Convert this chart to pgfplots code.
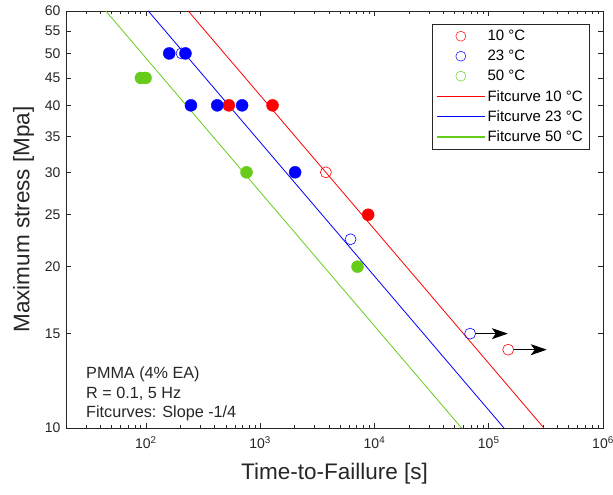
\documentclass[border=0pt]{standalone}
\usepackage{fontspec}
\setmainfont{Liberation Sans}
\usepackage{pgfplots}
\pgfplotsset{compat=1.18}
\usetikzlibrary{arrows.meta}
\definecolor{mred}{rgb}{1,0,0}
\definecolor{mblue}{rgb}{0,0,1}
\definecolor{mgreen}{rgb}{0.4,0.8,0.1}
\definecolor{axgray}{rgb}{0.15,0.15,0.15}
\begin{document}
\begin{tikzpicture}
\begin{axis}[
  scale only axis, width=537pt, height=417pt,
  xmode=log, ymode=log,
  xmin=20, xmax=1e6, ymin=10, ymax=60,
  xtick={1e2,1e3,1e4,1e5,1e6},
  xticklabels={10\textsuperscript{2},10\textsuperscript{3},10\textsuperscript{4},10\textsuperscript{5},10\textsuperscript{6}},
  minor xtick={20,30,40,50,60,70,80,90,200,300,400,500,600,700,800,900,2000,3000,4000,5000,6000,7000,8000,9000,20000,30000,40000,50000,60000,70000,80000,90000,200000,300000,400000,500000,600000,700000,800000,900000},
  ytick={10,15,20,25,30,35,40,45,50,55,60},
  yticklabels={10,15,20,25,30,35,40,45,50,55,60},
  tick align=inside,
  major tick length=5.5pt, minor tick length=3pt,
  axis line style={axgray, line width=0.6pt},
  tick style={axgray, line width=0.5pt},
  ticklabel style={font=\fontsize{14}{14}\selectfont, text=axgray},
  xticklabel style={yshift=-5pt},
  yticklabel style={xshift=-2pt},
  xlabel={Time-to-Faillure [s]}, ylabel={Maximum stress [Mpa]},
  label style={font=\fontsize{22.5}{22.5}\selectfont, text=axgray},
  xlabel style={yshift=-8pt},
  ylabel style={yshift=4pt},
  legend cell align=left,
  legend style={at={(1,1)}, anchor=north east, xshift=-14pt, yshift=-13pt,
    draw=axgray, line width=0.5pt, fill=white,
    font=\fontsize{15}{15}\selectfont, row sep=4pt,
    inner xsep=4pt, inner ysep=4pt},
]
\addlegendimage{legend image code/.code={\draw[mred, line width=0.5pt] (24pt,0pt) circle (5pt);}}
\addlegendentry{10 °C}
\addlegendimage{legend image code/.code={\draw[mblue, line width=0.5pt] (24pt,0pt) circle (5pt);}}
\addlegendentry{23 °C}
\addlegendimage{legend image code/.code={\draw[mgreen, line width=0.5pt] (24pt,0pt) circle (5pt);}}
\addlegendentry{50 °C}

\addplot[mred, line width=0.8pt, legend image code/.code={\draw[mred, line width=1.2pt] (0pt,0pt) -- (48pt,0pt);}] coordinates {(234.6,60) (304000,10)};
\addlegendentry{Fitcurve 10 °C}
\addplot[mblue, line width=0.8pt, legend image code/.code={\draw[mblue, line width=1.2pt] (0pt,0pt) -- (48pt,0pt);}] coordinates {(104.9,60) (136000,10)};
\addlegendentry{Fitcurve 23 °C}
\addplot[mgreen, line width=0.8pt, legend image code/.code={\draw[mgreen, line width=1.5pt] (0pt,0pt) -- (48pt,0pt);}] coordinates {(44.6,60) (57800,10)};
\addlegendentry{Fitcurve 50 °C}

% open circles
\addplot[only marks, mark=o, mark size=5.5pt, mred, line width=0.6pt, forget plot] coordinates {(3760,30) (148000,14)};
\addplot[only marks, mark=o, mark size=5.5pt, mblue, line width=0.6pt, forget plot] coordinates {(205,50) (6180,22.5) (68700,15)};
% filled circles
\addplot[only marks, mark=*, mark size=6pt, mred, forget plot] coordinates {(532,40) (1283,40) (8810,25)};
\addplot[only marks, mark=*, mark size=6pt, mblue, forget plot] coordinates {(160,50) (222,50) (248,40) (421,40) (695,40) (2023,30)};
\addplot[only marks, mark=*, mark size=6pt, mgreen, forget plot] coordinates {(90.4,45) (99.4,45) (760,30) (7110,20)};

\draw[black, line width=0.8pt, -{Stealth[length=16pt,width=11pt,inset=4pt]}] (axis cs:77100,15) -- (axis cs:147000,15);
\draw[black, line width=0.8pt, -{Stealth[length=16pt,width=11pt,inset=4pt]}] (axis cs:165800,14) -- (axis cs:322000,14);

\node[anchor=north west, align=left, inner sep=0pt, text=axgray, font=\fontsize{16.2}{19.5}\selectfont] at ([xshift=20pt,yshift=61pt]rel axis cs:0,0) {PMMA (4\% EA)\\R = 0.1, 5 Hz\\Fitcurves: Slope -1/4};
\end{axis}
\pgfresetboundingbox
\path (-66pt,-67pt) rectangle (547pt,428pt);
\end{tikzpicture}
\end{document}
